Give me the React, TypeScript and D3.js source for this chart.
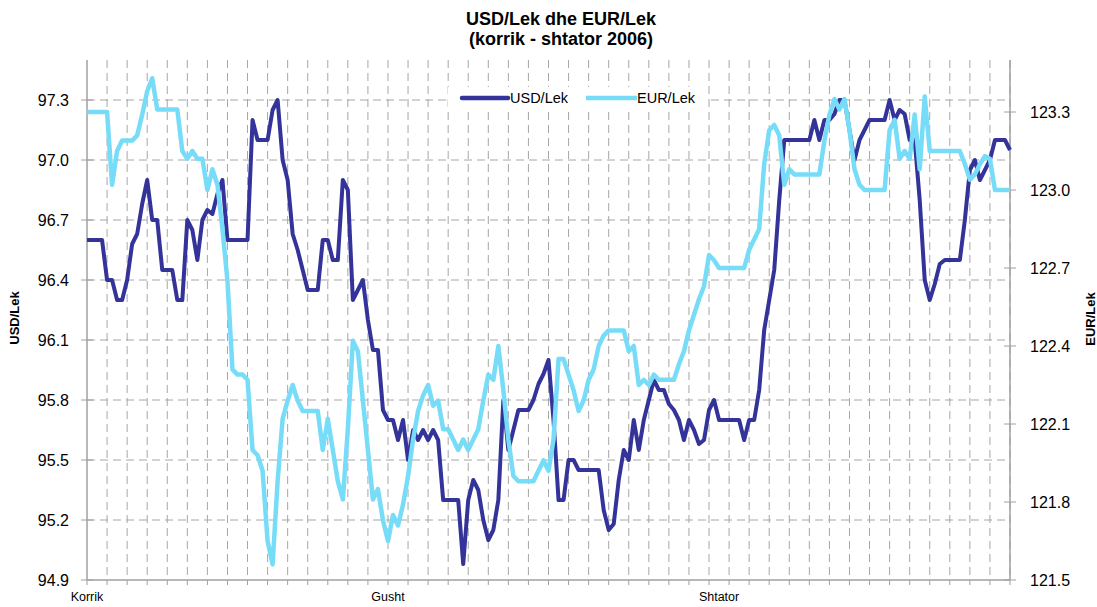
import * as d3 from 'd3'

// rates, korrik - shtator 2006
const usd = [
  96.6, 96.6, 96.6, 96.6, 96.4, 96.4, 96.3, 96.3, 96.4, 96.58,
  96.63, 96.78, 96.9, 96.7, 96.7, 96.45, 96.45, 96.45, 96.3, 96.3,
  96.7, 96.65, 96.5, 96.7, 96.75, 96.73, 96.83, 96.9, 96.6, 96.6,
  96.6, 96.6, 96.6, 97.2, 97.1, 97.1, 97.1, 97.25, 97.3, 97.0,
  96.9, 96.63, 96.55, 96.45, 96.35, 96.35, 96.35, 96.6, 96.6, 96.5,
  96.5, 96.9, 96.85, 96.3, 96.35, 96.4, 96.2, 96.05, 96.05, 95.75,
  95.7, 95.7, 95.6, 95.7, 95.5, 95.65, 95.6, 95.65, 95.6, 95.65,
  95.6, 95.3, 95.3, 95.3, 95.3, 94.98, 95.3, 95.4, 95.35, 95.2,
  95.1, 95.15, 95.3, 95.8, 95.55, 95.65, 95.75, 95.75, 95.75, 95.8,
  95.88, 95.93, 96.0, 95.7, 95.3, 95.3, 95.5, 95.5, 95.45, 95.45,
  95.45, 95.45, 95.45, 95.25, 95.15, 95.18, 95.4, 95.55, 95.5, 95.7,
  95.55, 95.7, 95.8, 95.9, 95.85, 95.85, 95.78, 95.75, 95.7, 95.6,
  95.7, 95.65, 95.58, 95.6, 95.75, 95.8, 95.7, 95.7, 95.7, 95.7,
  95.7, 95.6, 95.7, 95.7, 95.85, 96.15, 96.3, 96.45, 96.8, 97.1,
  97.1, 97.1, 97.1, 97.1, 97.1, 97.2, 97.1, 97.2, 97.2, 97.23,
  97.3, 97.3, 97.15, 97.0, 97.1, 97.15, 97.2, 97.2, 97.2, 97.2,
  97.3, 97.2, 97.25, 97.23, 97.1, 97.1, 96.8, 96.4, 96.3, 96.38,
  96.48, 96.5, 96.5, 96.5, 96.5, 96.7, 96.95, 97.0, 96.9, 96.95,
  97.0, 97.1, 97.1, 97.1, 97.05,
]

const eur = [
  123.3, 123.3, 123.3, 123.3, 123.3, 123.02, 123.15, 123.19, 123.19, 123.19,
  123.21, 123.29, 123.38, 123.43, 123.31, 123.31, 123.31, 123.31, 123.31, 123.15,
  123.12, 123.15, 123.12, 123.12, 123.0, 123.08, 123.02, 122.85, 122.65, 122.31,
  122.29, 122.29, 122.27, 122.0, 121.98, 121.92, 121.65, 121.56, 121.88, 122.12,
  122.19, 122.25, 122.19, 122.15, 122.15, 122.15, 122.15, 122.0, 122.12, 122.0,
  121.88, 121.81, 122.08, 122.42, 122.38, 122.19, 122.0, 121.81, 121.85, 121.73,
  121.65, 121.75, 121.71, 121.79, 121.9, 122.04, 122.15, 122.21, 122.25, 122.17,
  122.19, 122.08, 122.08, 122.04, 122.0, 122.04, 122.0, 122.04, 122.08, 122.19,
  122.29, 122.27, 122.4, 122.23, 122.04, 121.9, 121.88, 121.88, 121.88, 121.88,
  121.92, 121.96, 121.92, 122.04, 122.35, 122.35, 122.29, 122.23, 122.15, 122.19,
  122.27, 122.31, 122.4, 122.44, 122.46, 122.46, 122.46, 122.46, 122.38, 122.4,
  122.25, 122.27, 122.25, 122.29, 122.27, 122.27, 122.27, 122.27, 122.33, 122.38,
  122.46, 122.52, 122.58, 122.63, 122.75, 122.73, 122.7, 122.7, 122.7, 122.7,
  122.7, 122.7, 122.77, 122.81, 122.85, 123.1, 123.23, 123.25, 123.21, 123.02,
  123.08, 123.06, 123.06, 123.06, 123.06, 123.06, 123.06, 123.19, 123.29, 123.35,
  123.31, 123.35, 123.23, 123.08, 123.02, 123.0, 123.0, 123.0, 123.0, 123.0,
  123.23, 123.27, 123.12, 123.15, 123.12, 123.29, 123.08, 123.36, 123.15, 123.15,
  123.15, 123.15, 123.15, 123.15, 123.15, 123.1, 123.04, 123.06, 123.1, 123.13,
  123.12, 123.0, 123.0, 123.0, 123.0,
]

const monthLabels = ['Korrik', 'Gusht', 'Shtator']
const monthStart = [0, 60, 126]

const usdTicks = [94.9, 95.2, 95.5, 95.8, 96.1, 96.4, 96.7, 97.0, 97.3]
const eurTicks = [121.5, 121.8, 122.1, 122.4, 122.7, 123.0, 123.3]

const W = 1097
const H = 607
const FONT = 'Arial, "Liberation Sans", Helvetica, sans-serif'
const USD_COLOR = '#333399'
const EUR_COLOR = '#77dcf8'
const GRID = '#a6a6a6'
const AXIS = '#a0a0a0'

export default function App() {
  const left = 87
  const right = 1010
  const top = 60
  const bottom = 580

  const x = d3.scaleLinear().domain([0, usd.length - 1]).range([left, right])
  const yL = d3.scaleLinear().domain([94.9, 97.5]).range([bottom, top])
  const yR = d3.scaleLinear().domain([121.5, 123.5]).range([bottom, top])

  const usdLine = d3.line<number>().x((_, i) => x(i)).y(d => yL(d))
  const eurLine = d3.line<number>().x((_, i) => x(i)).y(d => yR(d))

  // a tick mark every 4th point
  const xTicks = d3.range(0, usd.length, 4)

  return (
    <div style={{ position: 'absolute', left: 0, top: 0 }}>
      <svg width={W} height={H} style={{ display: 'block', background: '#fff' }} fontFamily={FONT}>
        {/* title */}
        <text x={561} y={25} textAnchor="middle" fontSize={18} fontWeight="bold">USD/Lek dhe EUR/Lek</text>
        <text x={561} y={45} textAnchor="middle" fontSize={18} fontWeight="bold">(korrik - shtator 2006)</text>

        {/* gridlines */}
        {xTicks.slice(1).map(i => (
          <line key={'vx' + i} x1={x(i)} x2={x(i)} y1={top} y2={bottom}
            stroke={GRID} strokeWidth={1} strokeDasharray="8,5" />
        ))}
        {usdTicks.slice(1).map(v => (
          <line key={'hy' + v} x1={left} x2={right} y1={yL(v)} y2={yL(v)}
            stroke={GRID} strokeWidth={1} strokeDasharray="8,5" />
        ))}

        {/* axes */}
        <line x1={left} x2={left} y1={top} y2={bottom} stroke={AXIS} strokeWidth={1.5} />
        <line x1={right} x2={right} y1={top} y2={bottom} stroke={AXIS} strokeWidth={1.5} />
        <line x1={left} x2={right} y1={bottom} y2={bottom} stroke={AXIS} strokeWidth={1.5} />
        {xTicks.map(i => (
          <line key={'xt' + i} x1={x(i)} x2={x(i)} y1={bottom} y2={bottom + 5} stroke={AXIS} strokeWidth={1} />
        ))}
        {usdTicks.map(v => (
          <g key={'lt' + v}>
            <line x1={left - 6} x2={left + 6} y1={yL(v)} y2={yL(v)} stroke={AXIS} strokeWidth={1} />
            <text x={69} y={yL(v)} dy="0.35em" textAnchor="end" fontSize={16}>{v.toFixed(1)}</text>
          </g>
        ))}
        {eurTicks.map(v => (
          <g key={'rt' + v}>
            <line x1={right - 6} x2={right + 6} y1={yR(v)} y2={yR(v)} stroke={AXIS} strokeWidth={1} />
            <text x={1030} y={yR(v)} dy="0.35em" textAnchor="start" fontSize={16}>{v.toFixed(1)}</text>
          </g>
        ))}
        {monthLabels.map((m, k) => (
          <text key={m} x={x(monthStart[k])} y={601} textAnchor="middle" fontSize={12.5}>{m}</text>
        ))}

        {/* axis titles */}
        <text transform="translate(19,318) rotate(-90)" textAnchor="middle" fontSize={13} fontWeight="bold">USD/Lek</text>
        <text transform="translate(1095,319) rotate(-90)" textAnchor="middle" fontSize={13} fontWeight="bold">EUR/Lek</text>

        {/* series */}
        <path d={usdLine(usd) ?? ''} fill="none" stroke={USD_COLOR} strokeWidth={4} strokeLinejoin="round" />
        <path d={eurLine(eur) ?? ''} fill="none" stroke={EUR_COLOR} strokeWidth={4.5} strokeLinejoin="round" />

        {/* legend */}
        <rect x={448} y={87} width={258} height={23} fill="#fff" />
        <line x1={462} x2={508} y1={98} y2={98} stroke={USD_COLOR} strokeWidth={4.5} strokeLinecap="round" />
        <text x={510} y={98} dy="0.36em" fontSize={14.5}>USD/Lek</text>
        <line x1={586} x2={637} y1={98} y2={98} stroke={EUR_COLOR} strokeWidth={4.5} />
        <text x={637} y={98} dy="0.36em" fontSize={14.5}>EUR/Lek</text>
      </svg>
    </div>
  )
}
